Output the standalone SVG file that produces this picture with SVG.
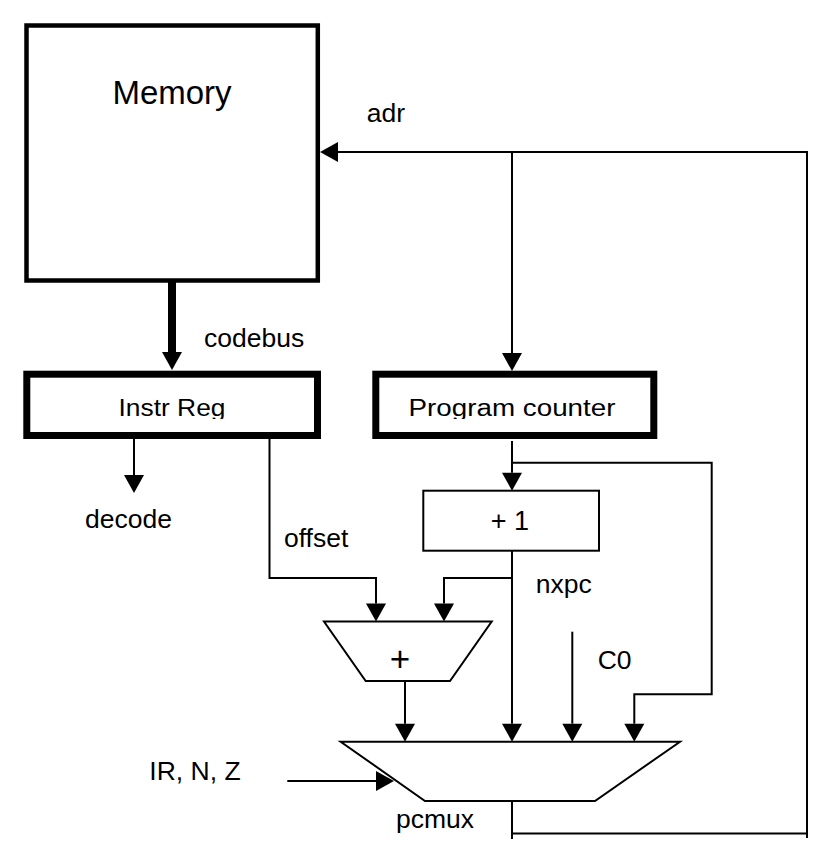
<svg xmlns="http://www.w3.org/2000/svg" width="834" height="868" viewBox="0 0 834 868">
<style>
  .box { fill: #fff; stroke: #000; }
  .thin { fill: none; stroke: #000; stroke-width: 2; }
  .lbl { font-family: "Liberation Sans", Arial, Helvetica, sans-serif; font-size: 26.5px; fill: #000; }
  .big { font-size: 33px; }
  .one { font-size: 27px; }
  .plus { font-size: 35px; }
  .blbl { font-family: "Liberation Sans", Arial, Helvetica, sans-serif; font-size: 23px; fill: #000; text-anchor: middle; }
</style>
<defs>
  <marker id="arr" markerUnits="userSpaceOnUse" markerWidth="18" markerHeight="20" refX="0" refY="10" orient="auto" overflow="visible">
    <path d="M0,0 L18,10 L0,20 Z" fill="#000"/>
  </marker>
  <clipPath id="clipLbl">
    <rect x="0" y="380" width="834" height="39"/>
  </clipPath>
</defs>
<rect width="834" height="868" fill="#fff"/>

<g id="connectors">
  <path class="thin" d="M807,152 H338" marker-end="url(#arr)"/>
  <path class="thin" d="M512,151 V353" marker-end="url(#arr)"/>
  <path class="thin" d="M807,151 V838"/>
  <path class="thin" d="M512,800 V839 M512,833.5 H807"/>
  <path fill="none" stroke="#000" stroke-width="8" d="M172,282 V352" marker-end="url(#arr)"/>
  <path class="thin" d="M134,439 V475" marker-end="url(#arr)"/>
  <path class="thin" d="M269.5,439 V578 H376 V603.5" marker-end="url(#arr)"/>
  <path class="thin" d="M512,441 V472.7" marker-end="url(#arr)"/>
  <path class="thin" d="M512,462.7 H711.7 V694.3 H634.3 V723.7" marker-end="url(#arr)"/>
  <path class="thin" d="M512,550.7 V723.7" marker-end="url(#arr)"/>
  <path class="thin" d="M512,578 H444 V603.5" marker-end="url(#arr)"/>
  <path class="thin" d="M405,681 V723.7" marker-end="url(#arr)"/>
  <path class="thin" d="M572.3,631.7 V723.7" marker-end="url(#arr)"/>
  <path class="thin" d="M287.3,781 H376" marker-end="url(#arr)"/>
</g>

<g id="memory">
  <rect class="box" x="26.5" y="25.5" width="291.3" height="255" stroke-width="4.5"/>
  <text class="lbl big" x="172" y="104" text-anchor="middle">Memory</text>
</g>

<g id="instr-reg">
  <rect class="box" x="26.8" y="374.2" width="290.7" height="61.3" stroke-width="7"/>
  <text class="blbl" x="172" y="416" textLength="107" lengthAdjust="spacingAndGlyphs" clip-path="url(#clipLbl)">Instr Reg</text>
</g>

<g id="program-counter">
  <rect class="box" x="375.8" y="374.2" width="278" height="61.3" stroke-width="7"/>
  <text class="blbl" x="512" y="416" textLength="207" lengthAdjust="spacingAndGlyphs" clip-path="url(#clipLbl)">Program counter</text>
</g>

<g id="plus-one">
  <rect class="box" x="423.3" y="490.7" width="175.7" height="60" stroke-width="2"/>
  <text class="lbl one" x="510" y="530" text-anchor="middle">+ 1</text>
</g>

<g id="adder">
  <polygon class="box" stroke-width="2" points="324,621.5 491.7,621.5 450,681 365.7,681"/>
  <text class="lbl plus" x="400" y="671" text-anchor="middle">+</text>
</g>

<g id="pcmux">
  <polygon class="box" stroke-width="2" points="340.7,741.7 680,741.7 595,801 425,801"/>
</g>

<g id="labels">
  <text class="lbl" x="366.7" y="121.7">adr</text>
  <text class="lbl" x="204" y="346.7">codebus</text>
  <text class="lbl" x="85" y="528.3">decode</text>
  <text class="lbl" x="284" y="546.7">offset</text>
  <text class="lbl" x="535.7" y="592.7">nxpc</text>
  <text class="lbl" x="597.7" y="669.3">C0</text>
  <text class="lbl" x="149.3" y="780">IR, N, Z</text>
  <text class="lbl" x="396" y="828.3">pcmux</text>
</g>
</svg>
